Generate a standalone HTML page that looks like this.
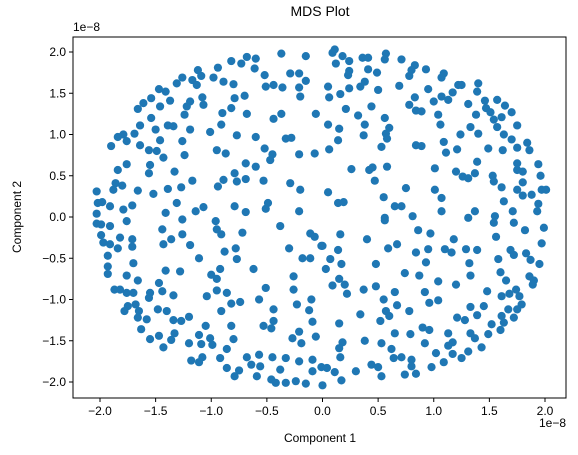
<!DOCTYPE html>
<html><head><meta charset="utf-8"><style>
html,body{margin:0;padding:0;background:#fff;width:578px;height:455px;overflow:hidden}
svg text{font-family:"Liberation Sans","DejaVu Sans",sans-serif;fill:#000}
</style></head><body>
<svg id="chart" width="578" height="455" xmlns="http://www.w3.org/2000/svg">
<rect width="578" height="455" fill="#fff"/>
<text x="320" y="16" font-size="14" text-anchor="middle">MDS Plot</text>
<g id="points"></g>
<g id="axes"></g>
<rect x="73" y="37" width="493" height="361" fill="none" stroke="#000" stroke-width="1"/>
<text x="320" y="442" font-size="12" text-anchor="middle">Component 1</text>
<text x="21" y="217" font-size="12" text-anchor="middle" transform="rotate(-90 21 217)">Component 2</text>
<text x="566" y="427" font-size="12" text-anchor="end">1e−8</text>
<text x="73" y="31" font-size="12">1e−8</text>
</svg>
<script>
const xTicks=[-2.0,-1.5,-1.0,-0.5,0.0,0.5,1.0,1.5,2.0];
const yTicks=[-2.0,-1.5,-1.0,-0.5,0.0,0.5,1.0,1.5,2.0];
const xs=[-0.37,-0.15,-0.68,-0.60,-0.82,-0.73,-0.61,-0.94,-1.12,-1.09,-0.98,-0.89,-0.80,-0.52,-0.29,-0.21,-0.15,-0.21,-0.20,-0.51,-0.44,-0.36,-1.26,-1.31,-1.17,-1.13,-1.47,-1.41,-1.54,-1.61,-1.66,-1.46,-1.37,-1.19,-1.22,-1.08,-1.07,-0.79,-0.70,-0.82,-0.90,-0.68,-0.44,-0.37,-0.06,-1.24,-1.54,-1.64,-1.69,-1.50,-1.39,-1.34,-1.19,-1.01,-0.91,-0.77,-0.60,-0.33,-0.28,-1.84,-1.79,-1.90,-1.76,-1.64,-1.56,-1.49,-1.46,-1.43,-1.26,-1.24,-0.95,-0.87,-0.52,-0.45,-0.47,-0.69,-0.60,-0.21,-0.07,-1.76,-1.84,-1.55,-1.56,-1.33,-1.17,-0.79,-0.77,-0.89,-0.94,-0.69,-0.53,-0.29,-0.20,-2.03,-1.86,-1.80,-1.88,-1.66,-1.52,-1.39,-1.27,-2.02,-1.98,-1.91,-1.71,-1.79,-1.31,-1.07,-1.14,-0.79,-0.69,-0.49,-0.51,-0.21,-1.41,-2.03,
0.11,0.09,0.18,0.24,0.12,0.36,0.41,0.57,0.56,0.71,0.41,0.49,0.24,0.23,0.83,0.80,0.78,0.93,1.09,1.07,0.05,0.06,0.24,0.16,0.34,0.38,0.50,0.69,0.95,0.83,0.78,0.84,0.89,1.00,1.07,1.13,1.17,1.22,1.25,1.40,1.39,1.31,1.46,1.47,1.57,1.64,1.70,1.51,1.54,1.61,1.57,1.63,1.70,1.75,1.84,1.86,1.75,1.62,1.49,1.38,1.33,1.40,1.24,1.09,1.11,1.21,1.39,1.04,1.06,0.05,0.15,0.14,0.06,0.21,0.32,0.38,0.37,0.44,0.56,0.60,0.57,0.58,0.53,0.84,0.89,0.26,0.42,0.45,0.58,0.47,1.01,1.20,1.26,1.31,1.37,1.53,1.54,1.61,1.75,1.75,1.80,1.94,1.96,1.80,1.75,1.80,1.88,1.97,2.01,1.94,1.93,1.63,1.71,0.05,0.14,0.19,0.55,0.65,0.71,0.75,1.01,1.07,1.07,0.81,1.37,1.55,0.56,
-2.03,-1.99,-1.91,-1.76,-1.99,-1.97,-1.91,-1.84,-1.82,-1.71,-1.71,-1.93,-1.93,-1.93,-1.70,-1.76,-1.66,-1.44,-1.26,-1.26,-1.36,-1.43,-1.19,-1.11,-1.41,-1.28,-0.96,-0.95,-0.91,-0.72,-0.88,-0.78,-0.77,-0.38,-0.30,-0.18,-0.11,-0.11,-0.07,-0.01,-0.62,-0.92,-1.00,-0.95,-1.47,-1.55,-1.56,-1.44,-1.34,-1.87,-1.82,-1.76,-1.70,-1.68,-1.75,-1.78,-1.65,-1.66,-1.58,-1.63,-1.48,-1.40,-1.34,-1.27,-1.20,-1.55,-1.47,-1.43,-1.36,-1.33,-1.20,-1.11,-1.09,-1.05,-1.01,-0.99,-1.18,-1.11,-1.08,-0.92,-0.86,-0.80,-0.82,-0.91,-1.04,-0.95,-0.86,-0.82,-0.74,-0.57,-0.51,-0.44,-0.44,-0.53,-0.46,-0.26,-0.26,-0.23,-0.10,-0.12,-0.09,-0.21,-0.27,-0.19,-0.06,-0.86,-0.79,-0.75,-0.68,-0.64,-0.57,-0.56,-0.59,-0.45,-0.38,-0.33,-0.21,-0.09,-0.09,-0.46,-0.42,-0.33,-0.24,-0.15,-0.01,
0.56,1.31,1.54,1.72,1.82,1.99,1.97,1.56,0.16,0.00,0.14,0.07,0.17,0.03,0.15,0.09,0.20,0.22,0.40,0.59,0.67,0.48,0.37,0.48,0.65,0.55,0.67,0.57,0.60,0.52,0.34,0.78,0.86,0.97,0.84,0.95,0.93,0.74,0.87,1.04,1.20,1.18,1.10,1.16,1.29,1.39,1.32,1.33,1.58,1.69,1.72,1.83,1.87,1.95,1.60,1.65,1.86,1.90,1.89,1.48,1.61,1.68,1.74,1.77,1.79,1.75,1.67,1.72,1.61,1.63,1.60,1.52,1.45,1.39,1.33,1.28,1.21,0.92,0.96,1.04,0.90,0.96,1.13,1.33,1.37,1.49,1.43,1.31,1.25,1.17,1.13,1.17,1.09,1.02,0.98,0.92,0.79,0.65,0.53,0.62,0.64,0.71,0.80,0.80,0.74,0.84,0.44,0.50,0.53,0.38,0.30,0.15,0.18,0.15,0.16,0.11,0.17,0.00,0.04];
const ys=[1.98,1.95,1.94,1.92,1.89,1.86,1.80,1.81,1.78,1.71,1.69,1.64,1.61,1.72,1.74,1.74,1.65,1.57,1.46,1.58,1.60,1.57,1.69,1.62,1.66,1.60,1.55,1.52,1.44,1.38,1.31,1.34,1.41,1.40,1.34,1.45,1.36,1.44,1.47,1.32,1.26,1.25,1.19,1.25,1.25,1.24,1.20,1.11,1.01,1.06,1.11,1.10,1.06,1.03,1.12,0.99,0.97,0.95,0.96,0.97,1.00,0.86,0.92,0.87,0.81,0.80,0.93,0.72,0.92,0.75,0.81,0.77,0.83,0.76,0.69,0.65,0.61,0.76,0.77,0.64,0.57,0.63,0.53,0.55,0.44,0.53,0.43,0.45,0.37,0.46,0.44,0.41,0.33,0.31,0.41,0.38,0.33,0.32,0.28,0.34,0.36,0.17,0.18,0.13,0.14,0.09,0.17,0.12,0.07,0.13,0.06,0.17,0.10,0.07,0.05,0.04,
2.03,1.99,1.95,1.89,1.86,1.93,1.93,1.98,1.91,1.91,1.79,1.75,1.77,1.72,1.84,1.78,1.71,1.79,1.74,1.69,1.58,1.45,1.56,1.49,1.58,1.64,1.54,1.59,1.55,1.45,1.36,1.29,1.28,1.40,1.46,1.42,1.51,1.60,1.60,1.62,1.52,1.37,1.41,1.32,1.42,1.35,1.27,1.27,1.18,1.21,1.09,1.00,0.94,1.11,0.90,0.81,0.84,0.81,0.83,1.24,1.09,1.01,1.00,0.91,0.78,0.82,0.67,1.24,1.12,1.12,1.07,0.93,0.82,1.31,1.23,1.12,0.99,1.34,1.20,1.08,1.01,0.95,0.85,0.87,0.86,0.58,0.57,0.60,0.61,0.44,0.59,0.55,0.49,0.47,0.53,0.50,0.43,0.36,0.65,0.57,0.55,0.64,0.50,0.42,0.33,0.26,0.27,0.33,0.33,0.16,0.07,0.19,0.07,0.30,0.17,0.18,0.24,0.13,0.13,0.35,0.33,0.23,0.07,0.01,0.07,0.01,-0.01,
-0.08,-0.09,-0.11,-0.05,-0.22,-0.31,-0.33,-0.38,-0.25,-0.27,-0.36,-0.47,-0.60,-0.69,-0.56,-0.71,-0.77,-0.15,-0.03,-0.21,-0.27,-0.33,-0.34,-0.50,-0.65,-0.66,-0.05,-0.15,-0.21,-0.19,-0.42,-0.38,-0.51,-0.11,-0.38,-0.50,-0.50,-0.20,-0.24,-0.35,-0.63,-0.63,-0.70,-0.75,-0.80,-0.92,-0.98,-0.90,-0.95,-0.88,-0.88,-0.92,-0.92,-1.06,-1.08,-1.14,-1.14,-1.22,-1.24,-1.36,-1.12,-1.14,-1.25,-1.26,-1.21,-1.48,-1.44,-1.58,-1.49,-1.41,-1.53,-1.43,-1.54,-1.32,-1.47,-1.55,-1.74,-1.76,-1.70,-1.71,-1.60,-1.48,-1.32,-1.14,-0.96,-0.89,-0.92,-1.05,-1.03,-1.00,-0.86,-1.12,-1.26,-1.32,-1.35,-0.72,-0.88,-1.06,-1.00,-1.13,-1.27,-1.39,-1.47,-1.53,-1.45,-1.83,-1.93,-1.86,-1.70,-1.79,-1.67,-1.81,-1.93,-1.70,-1.85,-1.71,-1.75,-1.73,-1.87,-1.97,-2.01,-2.01,-1.99,-2.02,-1.82,
-0.04,-0.01,-0.07,-0.07,-0.16,-0.13,-0.32,-0.24,-0.21,-0.35,-0.40,-0.51,-0.57,-0.63,-0.75,-0.83,-0.82,-0.93,-0.27,-0.38,-0.33,-0.57,-0.88,-0.84,-0.91,-1.00,-1.07,-1.14,-1.20,-1.26,-1.18,-1.14,-0.16,-0.20,-0.43,-0.39,-0.55,-0.68,-0.71,-0.78,-0.82,-0.27,-0.39,-0.43,-0.39,-0.40,-0.56,-0.71,-0.51,-0.40,-0.46,-0.44,-0.52,-0.57,-0.67,-0.77,-0.72,-0.77,-0.82,-0.90,-0.96,-0.93,-0.88,-0.96,-1.06,-1.12,-1.12,-1.22,-1.20,-1.28,-1.37,-1.30,-1.08,-1.19,-1.09,-1.25,-1.22,-0.91,-1.04,-1.01,-1.34,-1.37,-1.41,-1.41,-1.47,-1.42,-1.58,-1.63,-1.71,-1.52,-1.56,-1.66,-1.76,-1.65,-1.82,-1.53,-1.42,-1.41,-1.53,-1.60,-1.71,-1.70,-1.73,-1.81,-1.91,-1.90,-1.79,-1.82,-1.93,-1.50,-1.87,-1.29,-1.52,-1.59,-1.70,-1.88,-1.98,-2.04,-1.83,-1.93];
const L=73,R=566,T=37,B=398;
const xScale=v=>322.5+v*111.25;
const yScale=v=>217-v*82.5;
const NS='http://www.w3.org/2000/svg';
const pg=document.getElementById('points');
const n=Math.min(xs.length,ys.length);
for(let i=0;i<n;i++){
  const c=document.createElementNS(NS,'circle');
  c.setAttribute('cx',xScale(xs[i]));c.setAttribute('cy',yScale(ys[i]));
  c.setAttribute('r',4.1);c.setAttribute('fill','#1f77b4');
  
  
  pg.appendChild(c);
}
const ag=document.getElementById('axes');
xTicks.forEach(t=>{
  const x=xScale(t);
  const l=document.createElementNS(NS,'line');
  l.setAttribute('x1',x);l.setAttribute('x2',x);l.setAttribute('y1',B);l.setAttribute('y2',B+4);l.setAttribute('stroke','#000');
  
  
  ag.appendChild(l);
  const tx=document.createElementNS(NS,'text');
  tx.setAttribute('x',x);tx.setAttribute('y',B+17);tx.setAttribute('font-size','12');tx.setAttribute('text-anchor','middle');
  tx.textContent=t.toFixed(1).replace('-','−');
  
  
  ag.appendChild(tx);
});
yTicks.forEach(t=>{
  const y=yScale(t);
  const l=document.createElementNS(NS,'line');
  l.setAttribute('x1',L-4);l.setAttribute('x2',L);l.setAttribute('y1',y);l.setAttribute('y2',y);l.setAttribute('stroke','#000');
  
  
  ag.appendChild(l);
  const tx=document.createElementNS(NS,'text');
  tx.setAttribute('x',L-7);tx.setAttribute('y',y+4);tx.setAttribute('font-size','12');tx.setAttribute('text-anchor','end');
  tx.textContent=t.toFixed(1).replace('-','−');
  
  
  ag.appendChild(tx);
});
</script>
</body></html>
